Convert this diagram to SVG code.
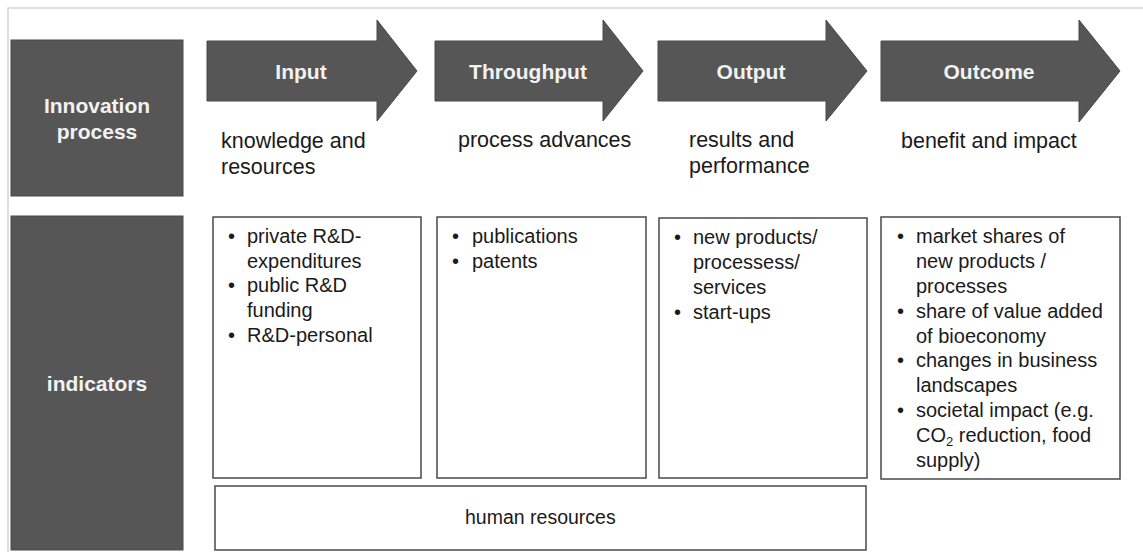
<svg xmlns="http://www.w3.org/2000/svg" width="1143" height="552" viewBox="0 0 1143 552">
  <style>
    .frame { fill: none; stroke: #d4d4d4; stroke-width: 1.5; }
    .dark { fill: #565656; stroke: #484848; stroke-width: 1; }
    .box { fill: #ffffff; stroke: #4a4a4a; stroke-width: 1.5; }
    .head { font-family: "Liberation Sans", Arial, sans-serif; font-weight: bold; font-size: 21px; fill: #f2f2f2; text-anchor: middle; }
    .sub { font-family: "Liberation Sans", Arial, sans-serif; font-size: 21.5px; fill: #1a1a1a; }
    .item { font-family: "Liberation Sans", Arial, sans-serif; font-size: 20px; fill: #1a1a1a; }
    .hr { font-family: "Liberation Sans", Arial, sans-serif; font-size: 19.5px; fill: #1a1a1a; }
  </style>

  <rect width="1143" height="552" fill="#ffffff"/>
  <!-- outer frame -->
  <path class="frame" d="M8,552 V8 H1143"/>

  <!-- row headers -->
  <g id="innovation-process">
    <rect class="dark" x="11" y="40" width="172" height="156"/>
    <text class="head" x="97" y="113">Innovation</text>
    <text class="head" x="97" y="139">process</text>
  </g>
  <g id="indicators">
    <rect class="dark" x="11" y="216" width="172" height="334"/>
    <text class="head" x="97" y="391">indicators</text>
  </g>

  <!-- process stage arrows -->
  <g id="stage-input">
    <path class="dark" d="M207,41 H377 V20 L417,71 L377,121 V101 H207 Z"/>
    <text class="head" x="301" y="79">Input</text>
    <text class="sub" x="221" y="148">knowledge and</text>
    <text class="sub" x="221" y="174">resources</text>
  </g>
  <g id="stage-throughput">
    <path class="dark" d="M435,41 H603 V20 L643,71 L603,121 V101 H435 Z"/>
    <text class="head" x="528" y="79">Throughput</text>
    <text class="sub" x="458" y="147">process advances</text>
  </g>
  <g id="stage-output">
    <path class="dark" d="M658,41 H826 V20 L867,71 L826,121 V101 H658 Z"/>
    <text class="head" x="751" y="79">Output</text>
    <text class="sub" x="689" y="147">results and</text>
    <text class="sub" x="689" y="173">performance</text>
  </g>
  <g id="stage-outcome">
    <path class="dark" d="M881,41 H1079 V20 L1120,71 L1079,122 V101 H881 Z"/>
    <text class="head" x="989" y="79">Outcome</text>
    <text class="sub" x="901" y="148">benefit and impact</text>
  </g>

  <!-- indicator boxes -->
  <g id="ind-input">
    <rect class="box" x="213" y="217" width="208" height="261"/>
    <g class="item">
      <text x="228" y="243">•</text><text x="247" y="243">private R&amp;D-</text>
      <text x="247" y="268">expenditures</text>
      <text x="228" y="292">•</text><text x="247" y="292">public R&amp;D</text>
      <text x="247" y="317">funding</text>
      <text x="228" y="342">•</text><text x="247" y="342">R&amp;D-personal</text>
    </g>
  </g>
  <g id="ind-throughput">
    <rect class="box" x="437" y="217" width="209" height="261"/>
    <g class="item">
      <text x="452" y="243">•</text><text x="472" y="243">publications</text>
      <text x="452" y="268">•</text><text x="472" y="268">patents</text>
    </g>
  </g>
  <g id="ind-output">
    <rect class="box" x="659" y="218" width="208" height="260"/>
    <g class="item">
      <text x="674" y="244">•</text><text x="693" y="244">new products/</text>
      <text x="693" y="269">processess/</text>
      <text x="693" y="294">services</text>
      <text x="674" y="319">•</text><text x="693" y="319">start-ups</text>
    </g>
  </g>
  <g id="ind-outcome">
    <rect class="box" x="881" y="217" width="239" height="262"/>
    <g class="item">
      <text x="897" y="243">•</text><text x="916" y="243">market shares of</text>
      <text x="916" y="268">new products /</text>
      <text x="916" y="293">processes</text>
      <text x="897" y="318">•</text><text x="916" y="318">share of value added</text>
      <text x="916" y="343">of bioeconomy</text>
      <text x="897" y="367">•</text><text x="916" y="367">changes in business</text>
      <text x="916" y="392">landscapes</text>
      <text x="897" y="417">•</text><text x="916" y="417">societal impact (e.g.</text>
      <text x="916" y="442">CO<tspan font-size="13" dy="4">2</tspan><tspan dy="-4"> reduction, food</tspan></text>
      <text x="916" y="467">supply)</text>
    </g>
  </g>
  <g id="human-resources">
    <rect class="box" x="215" y="486" width="651" height="64"/>
    <text class="hr" x="465" y="524">human resources</text>
  </g>
</svg>
